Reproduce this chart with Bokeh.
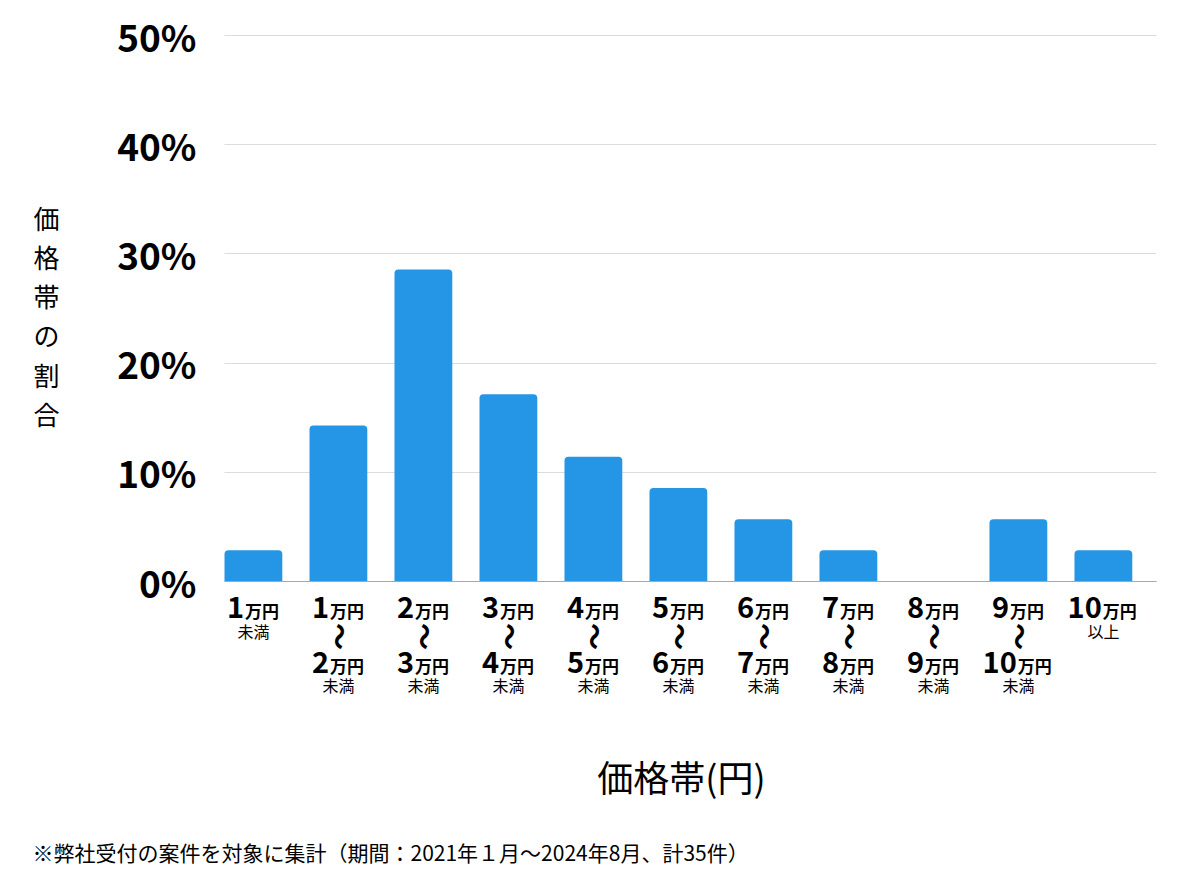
from bokeh.plotting import figure
from bokeh.models import Range1d, FixedTicker, PrintfTickFormatter, ColumnDataSource
from bokeh.core.properties import value
from bokeh.embed import file_html
from bokeh.resources import INLINE
import math

# ---- data ----
shares = [2.86, 14.29, 28.57, 17.14, 11.43, 8.57, 5.71, 2.86, 0.0, 5.71, 2.86]
upper_num = ["1", "1", "2", "3", "4", "5", "6", "7", "8", "9", "10"]
upper_note = ["未満", "", "", "", "", "", "", "", "", "", "以上"]
lower_num = ["", "2", "3", "4", "5", "6", "7", "8", "9", "10", ""]
lower_note = ["", "未満", "未満", "未満", "未満", "未満", "未満", "未満", "未満", "未満", ""]
unit = "万円"
wave = "〜"
y_ticks = [0, 10, 20, 30, 40, 50]
y_title = "価格帯の割合"
x_title = "価格帯(円)"
footnote = "※弊社受付の案件を対象に集計（期間：2021年１月〜2024年8月、計35件）"

FONT = "Noto Sans CJK JP"
BAR = "#2595E5"

# ---- layout (canvas pixels) ----
W, H = 1200, 874
PLOT_L, PLOT_R = 224, 1156        # chart area left/right
Y0_PX, Y50_PX = 581, 35           # pixel rows of 0% and 50%
X_START = -0.34                   # data x at chart-area left edge
X_END = 10.625                    # data x at chart-area right edge
PX_PER_X = (PLOT_R - PLOT_L) / (X_END - X_START)
PX_PER_Y = (Y0_PX - Y50_PX) / 50.0


def dx(px):
    return X_START + (px - PLOT_L) / PX_PER_X


def dy(py):
    return (Y0_PX - py) / PX_PER_Y


xs = list(range(len(shares)))

p = figure(width=W, height=H, output_backend="svg", toolbar_location=None,
           x_range=Range1d(dx(0), dx(W)), y_range=Range1d(dy(H), dy(0)),
           min_border=0, min_border_left=0, min_border_right=0,
           min_border_top=0, min_border_bottom=0)
p.outline_line_color = None
p.background_fill_color = "white"
p.border_fill_color = "white"

p.vbar(x=xs, top=shares, width=0.68, color=BAR, line_color=None,
       border_radius=(4, 4, 0, 0))

# y axis inside the canvas at chart-area left edge
p.yaxis.fixed_location = X_START
p.yaxis.ticker = FixedTicker(ticks=y_ticks)
p.yaxis.formatter = PrintfTickFormatter(format="%d%%")
p.yaxis.major_label_text_font = FONT
p.yaxis.major_label_text_font_style = "bold"
p.yaxis.major_label_text_font_size = "37px"
p.yaxis.major_label_text_color = "black"
p.yaxis.major_label_standoff = 22
p.yaxis.axis_line_color = None
p.yaxis.major_tick_line_color = None
p.yaxis.minor_tick_line_color = None

# x axis line at 0%
p.xaxis.fixed_location = 0
p.xaxis.bounds = (X_START, X_END)
p.xaxis.ticker = FixedTicker(ticks=[])
p.xaxis.major_tick_line_color = None
p.xaxis.minor_tick_line_color = None
p.xaxis.axis_line_color = "#a8a8a8"
p.xaxis.axis_line_width = 1

p.xgrid.grid_line_color = None
p.ygrid.ticker = FixedTicker(ticks=y_ticks)
p.ygrid.grid_line_color = "#dcdcdc"
grid_ok = True
try:
    p.ygrid.cross_bounds = (X_START, X_END)
except Exception:
    grid_ok = False
if not grid_ok:
    p.ygrid.grid_line_color = None
    gt = [t for t in y_ticks if t > 0]
    p.segment(x0=[X_START] * len(gt), x1=[X_END] * len(gt), y0=gt, y1=gt,
              line_color="#dcdcdc", line_width=1)

# ---- category labels ----
NUM_SIZE = 29
UNIT_SIZE = 17
NOTE_SIZE = 16
DIGIT_W = 0.53 * NUM_SIZE
UNIT_W = 2 * UNIT_SIZE

num = dict(x=[], y=[], t=[], o=[])
uni = dict(x=[], y=[], t=[], o=[])
nts = dict(x=[], y=[], t=[])
wvs = dict(x=[], y=[], t=[])


def amount(i, text, py):
    dw = DIGIT_W * len(text)
    split = dw - (dw + UNIT_W) / 2.0
    num["x"].append(i); num["y"].append(dy(py)); num["t"].append(text); num["o"].append(split)
    uni["x"].append(i); uni["y"].append(dy(py + 4)); uni["t"].append(unit); uni["o"].append(split + 1)


for i in xs:
    amount(i, upper_num[i], 606)
    if upper_note[i]:
        nts["x"].append(i); nts["y"].append(dy(630)); nts["t"].append(upper_note[i])
    if lower_num[i]:
        wvs["x"].append(i); wvs["y"].append(dy(636)); wvs["t"].append(wave)
        amount(i, lower_num[i], 661)
    if lower_note[i]:
        nts["x"].append(i); nts["y"].append(dy(684)); nts["t"].append(lower_note[i])

p.text(x="x", y="y", text="t", x_offset="o", source=ColumnDataSource(num),
       text_align="right", text_baseline="middle", text_font=value(FONT),
       text_font_style="bold", text_font_size=value(f"{NUM_SIZE}px"), text_color="black")
p.text(x="x", y="y", text="t", x_offset="o", source=ColumnDataSource(uni),
       text_align="left", text_baseline="middle", text_font=value(FONT),
       text_font_style="bold", text_font_size=value(f"{UNIT_SIZE}px"), text_color="black")
p.text(x="x", y="y", text="t", source=ColumnDataSource(nts),
       text_align="center", text_baseline="middle", text_font=value(FONT),
       text_font_size=value(f"{NOTE_SIZE}px"), text_color="black")
p.text(x="x", y="y", text="t", source=ColumnDataSource(wvs), angle=math.pi / 2,
       text_align="center", text_baseline="middle", text_font=value(FONT),
       text_font_style="bold", text_font_size=value("27px"), text_color="black")

# ---- y title, stacked vertically ----
p.text(x=[dx(46)] * len(y_title), y=[dy(216.5 + 39.3 * k) for k in range(len(y_title))],
       text=list(y_title), text_align="center", text_baseline="middle",
       text_font=value(FONT), text_font_size=value("26px"), text_color="black")

# ---- x title ----
p.text(x=[dx(681)], y=[dy(775)], text=[x_title], text_align="center",
       text_baseline="middle", text_font=value(FONT), text_font_size=value("36px"),
       text_color="black")

# ---- footnote ----
p.text(x=[dx(32)], y=[dy(851)], text=[footnote], text_align="left",
       text_baseline="middle", text_font=value(FONT), text_font_size=value("21px"),
       text_color="black")

open("out.html", "w").write(file_html(p, INLINE))
